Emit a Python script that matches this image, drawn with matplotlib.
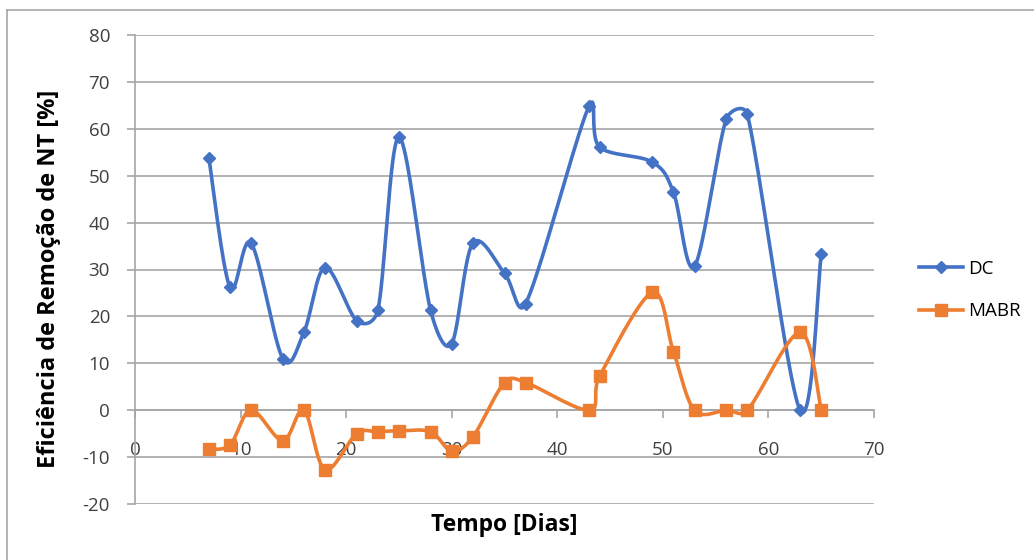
import matplotlib.pyplot as plt
import numpy as np
from matplotlib.lines import Line2D

plt.rcParams['font.family'] = ['Open Sans', 'DejaVu Sans']
plt.rcParams['axes.unicode_minus'] = False

dias = [7, 9, 11, 14, 16, 18, 21, 23, 25, 28, 30, 32, 35, 37, 43, 44, 49, 51, 53, 56, 58, 63, 65]
dc = [53.7, 26.2, 35.6, 11.0, 16.6, 30.4, 19.1, 21.3, 58.2, 21.3, 14.2, 35.6, 29.2, 22.7,
      64.8, 56.1, 52.9, 46.5, 30.7, 62.0, 63.1, 0.0, 33.2]
mabr = [-8.3, -7.4, 0.0, -6.5, 0.0, -12.7, -5.0, -4.6, -4.4, -4.6, -8.7, -5.7, 5.9, 5.9,
        0.0, 7.2, 25.1, 12.5, 0.0, 0.0, 0.0, 16.6, 0.0]

x_ticks = [0, 10, 20, 30, 40, 50, 60, 70]
y_ticks = [-20, -10, 0, 10, 20, 30, 40, 50, 60, 70, 80]

# pixels per data unit, used so the smoothing works in screen space
SX, SY = 739 / 70, 469 / 100


def smooth(x, y, n=40):
    # bezier smoothing with tension 1/6, control arms limited to half the segment
    p = np.column_stack([np.asarray(x, float) * SX, np.asarray(y, float) * SY])
    p = np.vstack([p[0], p, p[-1]])
    t = np.linspace(0, 1, n)[:, None]
    out = []
    for i in range(1, len(p) - 2):
        p0, p1, p2, p3 = p[i - 1], p[i], p[i + 1], p[i + 2]
        d12 = np.hypot(*(p2 - p1))
        d02 = np.hypot(*(p2 - p0))
        d13 = np.hypot(*(p3 - p1))
        f0 = 1 / 6
        f1 = 1 / 6
        if d02 / 6 > d12 / 2 and d02 > 0:
            f0 = d12 / 2 / d02
        if d13 / 6 > d12 / 2 and d13 > 0:
            f1 = d12 / 2 / d13
        c1 = p1 + (p2 - p0) * f0
        c2 = p2 - (p3 - p1) * f1
        b = (1 - t) ** 3 * p1 + 3 * (1 - t) ** 2 * t * c1 + 3 * (1 - t) * t ** 2 * c2 + t ** 3 * p2
        out.append(b)
    b = np.vstack(out)
    return b[:, 0] / SX, b[:, 1] / SY


fig = plt.figure(figsize=(10.34, 5.6), dpi=100)
ax = fig.add_axes([135 / 1034, 1 - 504 / 560, (874 - 135) / 1034, (504 - 35) / 560])

blue = '#4472C4'
orange = '#ED7D31'

sx, sy = smooth(dias, dc)
ax.plot(sx, sy, color=blue, lw=2.6, solid_capstyle='round', zorder=3)
ax.plot(dias, dc, ls='none', marker='D', ms=6.5, color=blue, zorder=4)
sx, sy = smooth(dias, mabr)
ax.plot(sx, sy, color=orange, lw=2.6, solid_capstyle='round', zorder=3)
ax.plot(dias, mabr, ls='none', marker='s', ms=8, color=orange, zorder=4)

ax.set_xlim(0, 70)
ax.set_ylim(-20, 80)
ax.set_xticks(x_ticks)
ax.set_yticks(y_ticks)
ax.grid(axis='y', color='#A6A6A6', lw=1.2)
ax.set_axisbelow(True)

for s in ['top', 'right']:
    ax.spines[s].set_visible(False)
ax.spines['left'].set_color('#A6A6A6')
ax.spines['left'].set_linewidth(1.2)
ax.spines['bottom'].set_position(('data', 0))
ax.spines['bottom'].set_color('#A6A6A6')
ax.spines['bottom'].set_linewidth(1.2)
ax.tick_params(axis='x', direction='out', length=6, width=1.2, color='#A6A6A6',
               labelsize=13.5, labelcolor='#404040', pad=16)
ax.tick_params(axis='y', direction='out', length=6, width=1.2, color='#A6A6A6',
               labelsize=13.5, labelcolor='#404040', pad=12)

ax.set_xlabel('Tempo [Dias]', fontsize=16.5, fontweight='bold')
ax.xaxis.set_label_coords(0.5, -0.02)
ax.set_ylabel('Eficiência de Remoção de NT [%]', fontsize=17, fontweight='bold')
ax.yaxis.set_label_coords(-0.1, 0.479)

handles = [Line2D([], [], color=blue, lw=2.6, marker='D', ms=6.5),
           Line2D([], [], color=orange, lw=2.6, marker='s', ms=8)]
fig.legend(handles, ['DC', 'MABR'], loc='center left', bbox_to_anchor=(0.889, 0.482),
           frameon=False, fontsize=13.5, handlelength=2.35, labelspacing=1.32,
           handletextpad=0.27, borderpad=0, borderaxespad=0)

# chart area border
fig.add_artist(Line2D([7 / 1034, 7 / 1034], [0, 1 - 10 / 560], transform=fig.transFigure,
                      color='#A6A6A6', lw=1.2))
fig.add_artist(Line2D([7 / 1034, 1], [1 - 10 / 560, 1 - 10 / 560], transform=fig.transFigure,
                      color='#A6A6A6', lw=1.2))

fig.savefig('out.png', dpi=100)
